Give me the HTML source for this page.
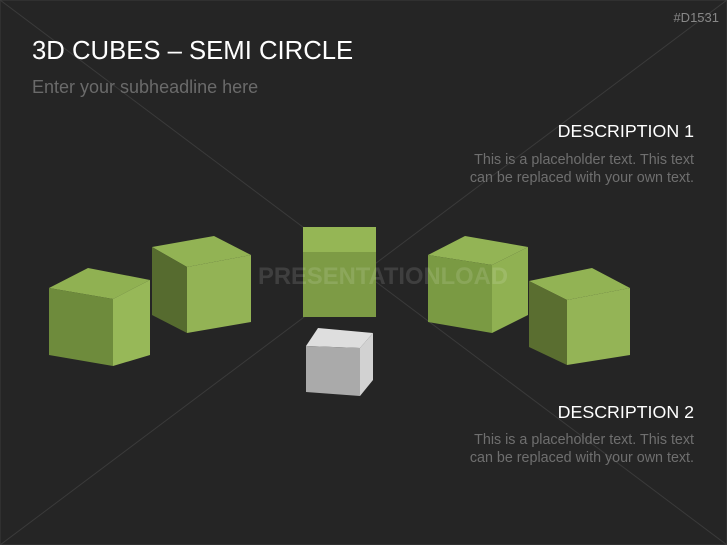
<!DOCTYPE html><html><head><style>
body{margin:0;width:727px;height:545px;background:#252525;overflow:hidden;position:relative;font-family:"Liberation Sans",sans-serif}
.t{position:absolute;white-space:nowrap}
</style></head><body>
<svg width="727" height="545" style="position:absolute;left:0;top:0">
<g stroke="#3a3a3a" stroke-width="1">
<line x1="0" y1="0" x2="727" y2="545"/><line x1="727" y1="0" x2="0" y2="545"/>
</g>
<rect x="0" y="0" width="727" height="545" fill="none" stroke="#3a3a3a"/>
<g>
<polygon points="49,288 88,268 150,280 113,299" fill="#90b152"/>
<polygon points="49,288 113,299 113,366 49,355" fill="#6e8b3c"/>
<polygon points="113,299 150,280 150,355 113,366" fill="#97b858"/>
<polygon points="152,247 214,236 251,255 187,267" fill="#92b354"/>
<polygon points="152,247 187,267 187,333 152,315" fill="#566b2f"/>
<polygon points="187,267 251,255 251,322 187,333" fill="#93b355"/>
<rect x="303" y="227" width="73" height="25" fill="#95b655"/>
<rect x="303" y="252" width="73" height="65" fill="#7d9b45"/>
<polygon points="306,346 318,328 373,333 360,348" fill="#dedede"/>
<polygon points="306,346 360,348 360,396 306,392" fill="#aaaaaa"/>
<polygon points="360,348 373,333 373,380 360,396" fill="#d2d2d2"/>
<polygon points="428,255 465,236 528,247 492,265" fill="#93b455"/>
<polygon points="428,255 492,265 492,333 428,322" fill="#7a9a43"/>
<polygon points="492,265 528,247 528,315 492,333" fill="#90b152"/>
<polygon points="529,281 592,268 630,288 567,300" fill="#92b354"/>
<polygon points="529,281 567,300 567,365 529,347" fill="#5a6e30"/>
<polygon points="567,300 630,288 630,355 567,365" fill="#94b456"/>
</g>
<text x="258" y="284" font-family="Liberation Sans" font-weight="bold" font-size="24" fill="#ffffff" fill-opacity="0.12" textLength="250" lengthAdjust="spacingAndGlyphs">PRESENTATIONLOAD</text>
</svg>
<div class="t" style="right:8px;top:10px;font-size:13px;color:#888">#D1531</div>
<div class="t" style="left:32px;top:37px;font-size:25.7px;color:#fff">3D CUBES – SEMI CIRCLE</div>
<div class="t" style="left:32px;top:77px;font-size:18px;color:#6a6a6a">Enter your subheadline here</div>
<div class="t" style="right:33px;top:121px;font-size:17.8px;color:#fff">DESCRIPTION 1</div>
<div class="t" style="right:33px;top:151px;font-size:14.3px;line-height:18px;color:#6f6f6f;text-align:right">This is a placeholder text. This text<br>can be replaced with your own text.</div>
<div class="t" style="right:33px;top:402px;font-size:17.8px;color:#fff">DESCRIPTION 2</div>
<div class="t" style="right:33px;top:431px;font-size:14.3px;line-height:18px;color:#6f6f6f;text-align:right">This is a placeholder text. This text<br>can be replaced with your own text.</div>
</body></html>
